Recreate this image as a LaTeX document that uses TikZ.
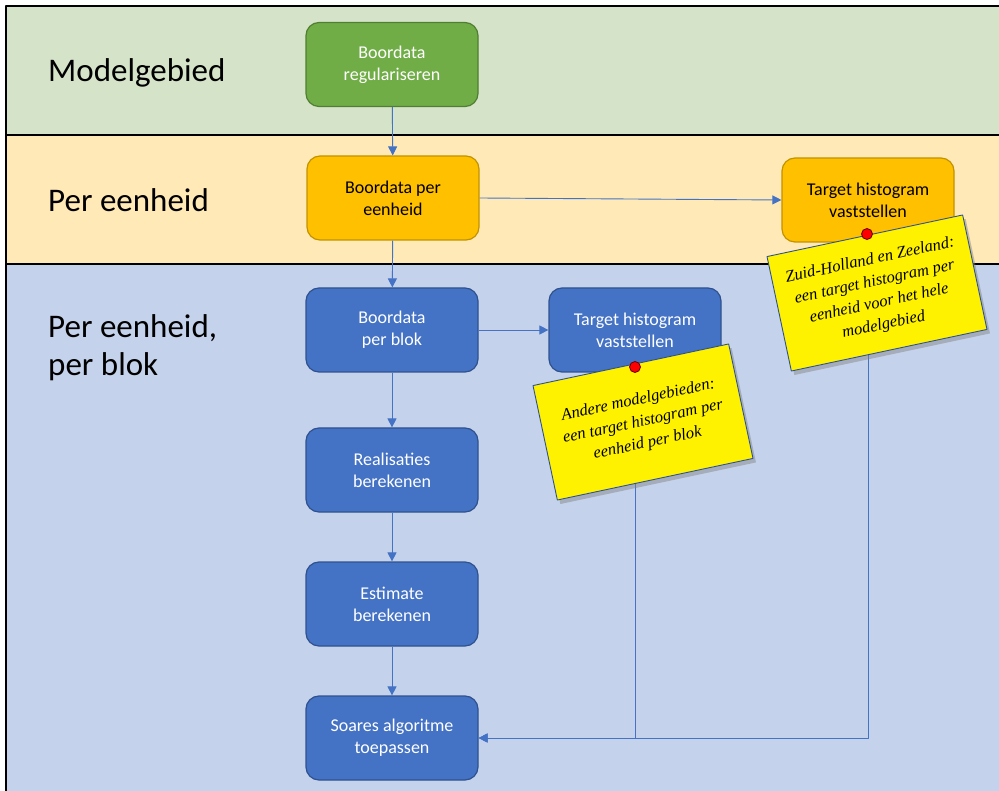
\documentclass[tikz,border=0pt]{standalone}
\usepackage{fontspec}
\setmainfont{Carlito}
\newfontfamily\notefont{Liberation Serif}
\usetikzlibrary{arrows.meta,shadows}

\definecolor{lanegroen}{HTML}{D5E3C8}
\definecolor{lanegeel}{HTML}{FFE9B6}
\definecolor{laneblauw}{HTML}{C4D2EB}
\definecolor{groen}{HTML}{70AD47}
\definecolor{groenrand}{HTML}{507E32}
\definecolor{oranje}{HTML}{FFC000}
\definecolor{oranjerand}{HTML}{C29200}
\definecolor{blauw}{HTML}{4472C4}
\definecolor{blauwrand}{HTML}{2F528F}

\begin{document}
\begin{tikzpicture}[x=1pt, y=-1pt, line join=round,
  stap/.style={rounded corners=13pt, minimum width=172pt, minimum height=84pt,
    align=center, inner sep=2pt, line width=1.2pt, font=\fontsize{18}{22}\selectfont},
  groenstap/.style={stap, fill=groen, draw=groenrand, text=white},
  oranjestap/.style={stap, fill=oranje, draw=oranjerand, text=black},
  blauwstap/.style={stap, fill=blauw, draw=blauwrand, text=white},
  lanetekst/.style={anchor=west, inner sep=0pt, align=left, font=\fontsize{33}{38}\selectfont},
  pijl/.style={draw=blauw, line width=0.9pt, -{Triangle[length=9pt, width=9pt]}},
  notitie/.style={fill=yellow, draw=blauwrand, line width=0.9pt, minimum width=200pt,
    minimum height=117pt, align=center, inner sep=4pt, rotate=12,
    font=\notefont\itshape\fontsize{16.5}{22}\selectfont,
    drop shadow={shadow xshift=3pt, shadow yshift=-4pt, opacity=0.45}},
  punaise/.style={circle, fill=red, draw=red!40!black, line width=0.8pt,
    minimum size=11pt, inner sep=0pt}]

  %% banen (swimlanes)
  \fill[lanegroen] (6,6) rectangle (999,135);
  \fill[lanegeel] (6,135) rectangle (999,264);
  \fill[laneblauw] (6,264) rectangle (999,791);
  \draw[line width=2pt] (6,791) -- (6,6) -- (999,6);
  \draw[line width=2pt] (6,135) -- (999,135);
  \draw[line width=2pt] (6,264) -- (999,264);

  \node[lanetekst] (lane1) at (48,73) {Modelgebied};
  \node[lanetekst] (lane2) at (48,200) {Per eenheid};
  \node[lanetekst] (lane3) at (48,348) {Per eenheid,\\per blok};

  %% stappen
  \node[groenstap] (regul) at (392,64.5) {Boordata\\regulariseren};
  \node[oranjestap] (eenheid) at (393,198) {Boordata per\\eenheid};
  \node[oranjestap] (target1) at (868,200) {Target histogram\\vaststellen};
  \node[blauwstap] (blok) at (392,330) {Boordata\\per blok};
  \node[blauwstap] (target2) at (635,330) {Target histogram\\vaststellen};
  \node[blauwstap] (realisaties) at (392,470) {Realisaties\\berekenen};
  \node[blauwstap] (estimate) at (392,604) {Estimate\\berekenen};
  \node[blauwstap] (soares) at (392,738) {Soares algoritme\\toepassen};

  %% verbindingen
  \draw[pijl] (regul) -- (eenheid);
  \draw[pijl] (eenheid.east) -- (target1.west);
  \draw[pijl] (eenheid) -- (blok);
  \draw[pijl] (blok) -- (target2);
  \draw[pijl] (blok) -- (realisaties);
  \draw[pijl] (realisaties) -- (estimate);
  \draw[pijl] (estimate) -- (soares);
  \draw[pijl] (target2.south) |- (soares.east);
  \draw[pijl] (target1.south) |- (soares.east);

  %% notities (bovenop de lijnen)
  \node[notitie] (noot1) at (877,293) {Zuid-Holland en Zeeland:\\een target histogram per\\eenheid voor het hele\\modelgebied};
  \node[notitie] (noot2) at (643,422) {Andere modelgebieden:\\een target histogram per\\eenheid per blok};
  \node[punaise] (pin1) at (867,234) {};
  \node[punaise] (pin2) at (635,367) {};

  \pgfresetboundingbox
  \path[use as bounding box] (0,0) rectangle (999,791);
\end{tikzpicture}
\end{document}
